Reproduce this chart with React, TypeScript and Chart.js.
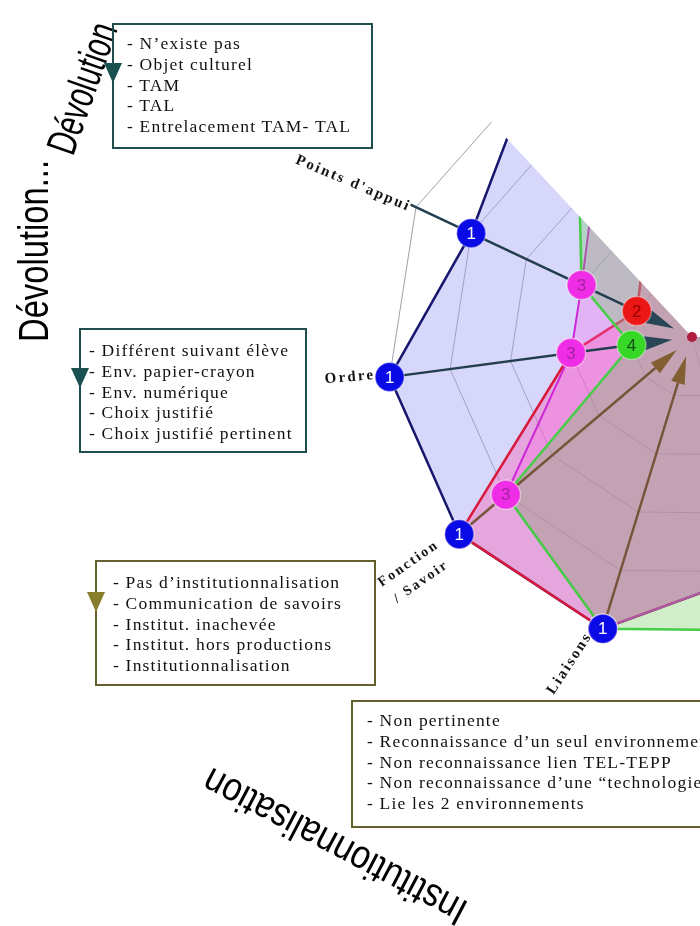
import React, { useEffect, useRef } from "react";
import { Chart, registerables } from "chart.js";

Chart.register(...registerables);

// ---------- data ----------
// Axes of the spider web, clockwise starting from "Liaisons" (unseen axes on the right have no visible label)
const axisLabels: (string | string[])[] = [
  "Liaisons",
  ["Fonction", "/ Savoir"],
  "Ordre",
  "Points d'appui",
  "", "", "", "", "", "", "",
];
// values = ring reached, counted from the centre (0 = centre, 5 = outer ring)
const series1 = [5, 5, 5, 4, 5, 4, 4, 4, 4, 4, 4]; // blue  "1"
const series2 = [5, 5, 2, 1, 1.5, 1, 1, 1, 1, 2, 4]; // red   "2"
const series3 = [5, 4, 2, 2, 3, 2, 2, 2, 2, 3, 4]; // magenta "3"
const series4 = [5, 4, 1, 2, 3.5, 2, 2, 2, 2, 3, 5]; // green "4"
const seriesNames = ["1", "2", "3", "4"];
const markedAxes = [0, 1, 2, 3];

const devolutionItems = [
  "- N’existe pas",
  "- Objet culturel",
  "- TAM",
  "- TAL",
  "- Entrelacement TAM- TAL",
];
const ordreItems = [
  "- Différent suivant élève",
  "- Env. papier-crayon",
  "- Env. numérique",
  "- Choix justifié",
  "- Choix justifié pertinent",
];
const institutionItems = [
  "- Pas d’institutionnalisation",
  "- Communication de savoirs",
  "- Institut. inachevée",
  "- Institut. hors productions",
  "- Institutionnalisation",
];
const liaisonItems = [
  "- Non pertinente",
  "- Reconnaissance d’un seul environnement",
  "- Non reconnaissance lien TEL-TEPP",
  "- Non reconnaissance d’une “technologie”",
  "- Lie les 2 environnements",
];

// ---------- styles ----------
const seriesStyle = [
  { line: "rgb(22,22,110)", fill: "rgba(160,160,245,0.42)", width: 2.5, dot: "rgb(10,10,230)", text: "#ffffff", order: 4 },
  { line: "rgb(215,25,60)", fill: "rgba(255,80,170,0.36)", width: 2.5, dot: "rgb(235,22,22)", text: "rgb(150,0,0)", order: 3 },
  { line: "rgb(205,40,215)", fill: "rgba(255,100,230,0.30)", width: 2, dot: "rgb(240,45,230)", text: "rgb(165,35,160)", order: 2 },
  { line: "rgb(70,205,70)", fill: "rgba(100,200,80,0.30)", width: 2.5, dot: "rgb(55,215,40)", text: "rgb(20,80,20)", order: 1 },
];
const axisStyle = [
  { index: 0, line: "rgb(118,84,56)", head: "rgb(130,95,50)" },
  { index: 1, line: "rgb(118,84,56)", head: "rgb(130,95,50)" },
  { index: 2, line: "rgb(34,62,78)", head: "rgb(40,70,85)" },
  { index: 3, line: "rgb(34,62,78)", head: "rgb(40,70,85)" },
];
const labelLayout = [
  { index: 3, extra: 65, dx: -4, dy: 4, rot: 23, size: 15, lh: 18 },
  { index: 2, extra: 40, dx: 0, dy: -5, rot: -5, size: 15, lh: 18 },
  { index: 1, extra: 66, dx: 6, dy: -4, rot: -35, size: 14, lh: 22 },
  { index: 0, extra: 28, dx: -25, dy: 8, rot: -57, size: 15, lh: 18 },
];
const MASK_FROM = 317; // degrees clockwise from up
const MASK_TO = 90;

const rad = (d: number) => (d * Math.PI) / 180;

const overlayPlugin = {
  id: "overlay",
  afterDatasetsDraw(chart: any) {
    const s = chart.scales.r;
    const ctx: CanvasRenderingContext2D = chart.ctx;
    const cx = s.xCenter;
    const cy = s.yCenter;
    const R = s.drawingArea;

    // white cut-out (the part of the picture that is hidden)
    ctx.save();
    ctx.fillStyle = "#ffffff";
    ctx.beginPath();
    ctx.moveTo(cx, cy);
    ctx.arc(cx, cy, 3000, rad(MASK_FROM - 90), rad(MASK_TO - 90 + 360));
    ctx.closePath();
    ctx.fill();
    ctx.restore();

    // axis arrows
    ctx.save();
    axisStyle.forEach((a) => {
      const outer = s.getPointPosition(a.index, R + 6);
      const base = s.getPointPosition(a.index, 48);
      const tip = s.getPointPosition(a.index, 20);
      ctx.strokeStyle = a.line;
      ctx.lineWidth = 2.4;
      ctx.beginPath();
      ctx.moveTo(outer.x, outer.y);
      ctx.lineTo(base.x, base.y);
      ctx.stroke();
      const ang = Math.atan2(tip.y - base.y, tip.x - base.x);
      const nx = -Math.sin(ang);
      const ny = Math.cos(ang);
      ctx.fillStyle = a.head;
      ctx.beginPath();
      ctx.moveTo(tip.x, tip.y);
      ctx.lineTo(base.x + nx * 7, base.y + ny * 7);
      ctx.lineTo(base.x - nx * 7, base.y - ny * 7);
      ctx.closePath();
      ctx.fill();
    });
    ctx.restore();

    // axis labels
    ctx.save();
    ctx.fillStyle = "#141414";
    ctx.textAlign = "center";
    ctx.textBaseline = "middle";
    (ctx as any).letterSpacing = "2.2px";
    labelLayout.forEach((l) => {
      const p = s.getPointPosition(l.index, R + l.extra);
      const t = axisLabels[l.index];
      const lines = Array.isArray(t) ? t : [t];
      ctx.font = `bold ${l.size}px "Liberation Serif", "Times New Roman", serif`;
      ctx.save();
      ctx.translate(p.x + l.dx, p.y + l.dy);
      ctx.rotate(rad(l.rot));
      lines.forEach((line, k) => ctx.fillText(line, 0, (k - (lines.length - 1) / 2) * l.lh));
      ctx.restore();
    });
    ctx.restore();

    // numbered markers
    ctx.save();
    (ctx as any).letterSpacing = "0px";
    ctx.textAlign = "center";
    ctx.textBaseline = "middle";
    ctx.font = `17px "Liberation Sans", Arial, sans-serif`;
    [1, 3, 2, 0].forEach((di) => {
      const meta = chart.getDatasetMeta(di);
      const st = seriesStyle[di];
      markedAxes.forEach((i) => {
        const el = meta.data[i];
        if (!el) return;
        ctx.beginPath();
        ctx.arc(el.x, el.y, 14.5, 0, Math.PI * 2);
        ctx.fillStyle = st.dot;
        ctx.fill();
        ctx.lineWidth = 1.5;
        ctx.strokeStyle = "rgba(255,255,255,0.35)";
        ctx.stroke();
        ctx.fillStyle = st.text;
        ctx.fillText(seriesNames[di], el.x, el.y + 1);
      });
    });
    // centre dot
    ctx.beginPath();
    ctx.arc(cx, cy, 5, 0, Math.PI * 2);
    ctx.fillStyle = "rgb(175,30,60)";
    ctx.fill();
    ctx.restore();
  },
};

const serif = '"Liberation Serif", "Times New Roman", serif';
const sans = '"Liberation Sans", Arial, sans-serif';

type BoxSpec = {
  left: number; top: number; width: number; height: number; color: string;
  padTop: number; padLeft: number; arrow?: string; arrowTop?: number;
};

function NoteBox({ box, items }: { box: BoxSpec; items: string[] }) {
  return (
    <div
      style={{
        position: "absolute",
        left: box.left,
        top: box.top,
        width: box.width,
        height: box.height,
        boxSizing: "border-box",
        border: `2px solid ${box.color}`,
        background: "transparent",
        paddingTop: box.padTop,
        paddingLeft: box.padLeft,
        fontFamily: serif,
        fontSize: 17.5,
        lineHeight: "20.8px",
        letterSpacing: "1.2px",
        whiteSpace: "nowrap",
        color: "#111",
      }}
    >
      {items.map((t, i) => (
        <div key={i}>{t}</div>
      ))}
      {box.arrow && (
        <div
          style={{
            position: "absolute",
            left: -10,
            top: box.arrowTop,
            width: 0,
            height: 0,
            borderLeft: "9px solid transparent",
            borderRight: "9px solid transparent",
            borderTop: `20px solid ${box.arrow}`,
          }}
        />
      )}
    </div>
  );
}

const boxDevolution: BoxSpec = { left: 112, top: 23, width: 261, height: 126, color: "rgb(32,78,78)", padTop: 8, padLeft: 13, arrow: "rgb(25,80,80)", arrowTop: 38 };
const boxOrdre: BoxSpec = { left: 79, top: 328, width: 228, height: 125, color: "rgb(32,78,78)", padTop: 10, padLeft: 8, arrow: "rgb(25,80,80)", arrowTop: 38 };
const boxInstit: BoxSpec = { left: 95, top: 560, width: 281, height: 126, color: "rgb(100,96,45)", padTop: 10, padLeft: 16, arrow: "rgb(135,125,45)", arrowTop: 30 };
const boxLiaison: BoxSpec = { left: 351, top: 700, width: 450, height: 128, color: "rgb(100,96,45)", padTop: 8, padLeft: 14 };

export default function App() {
  const ref = useRef<HTMLCanvasElement>(null);

  useEffect(() => {
    const all = [series1, series2, series3, series4];
    const chart = new Chart(ref.current as HTMLCanvasElement, {
      type: "radar",
      data: {
        labels: axisLabels as any,
        datasets: all.map((d, i) => ({
          label: seriesNames[i],
          data: d,
          borderColor: seriesStyle[i].line,
          backgroundColor: seriesStyle[i].fill,
          borderWidth: seriesStyle[i].width,
          fill: true,
          order: seriesStyle[i].order,
          pointRadius: 0,
          pointHoverRadius: 0,
        })),
      },
      options: {
        responsive: false,
        animation: false,
        layout: { padding: 145 },
        plugins: {
          legend: { display: false },
          tooltip: { enabled: false },
        },
        elements: { line: { tension: 0 } },
        scales: {
          r: {
            min: 0,
            max: 5,
            startAngle: 197,
            ticks: { display: false, stepSize: 1 },
            pointLabels: { display: false },
            grid: { color: "rgba(95,95,110,0.75)", lineWidth: 0.8 },
            angleLines: {
              color: (c: any) => (c.index <= 3 ? "rgba(0,0,0,0)" : "rgba(110,110,120,0.6)"),
              lineWidth: 0.8,
            },
          },
        },
      } as any,
      plugins: [overlayPlugin as any],
    });
    return () => chart.destroy();
  }, []);

  return (
    <div style={{ position: "fixed", left: 0, top: 0, width: 700, height: 926, overflow: "hidden", background: "#ffffff" }}>
      <canvas ref={ref} width={900} height={900} style={{ position: "absolute", left: 242, top: -113, width: 900, height: 900 }} />
      <svg width={700} height={926} style={{ position: "absolute", left: 0, top: 0, pointerEvents: "none" }}>
        <text transform="translate(48,342) rotate(-90)" fontFamily={sans} fontSize={42} textLength={182} lengthAdjust="spacingAndGlyphs" fill="#000">
          Dévolution...
        </text>
        <text transform="translate(73,157) rotate(-70.6)" fontFamily={sans} fontSize={42} textLength={136} lengthAdjust="spacingAndGlyphs" fill="#000">
          Dévolution
        </text>
        <text transform="translate(470,903) rotate(207.8)" fontFamily={sans} fontSize={40} textLength={292} lengthAdjust="spacingAndGlyphs" fill="#000">
          Institutionnalisation
        </text>
      </svg>
      <NoteBox box={boxDevolution} items={devolutionItems} />
      <NoteBox box={boxOrdre} items={ordreItems} />
      <NoteBox box={boxInstit} items={institutionItems} />
      <NoteBox box={boxLiaison} items={liaisonItems} />
    </div>
  );
}
